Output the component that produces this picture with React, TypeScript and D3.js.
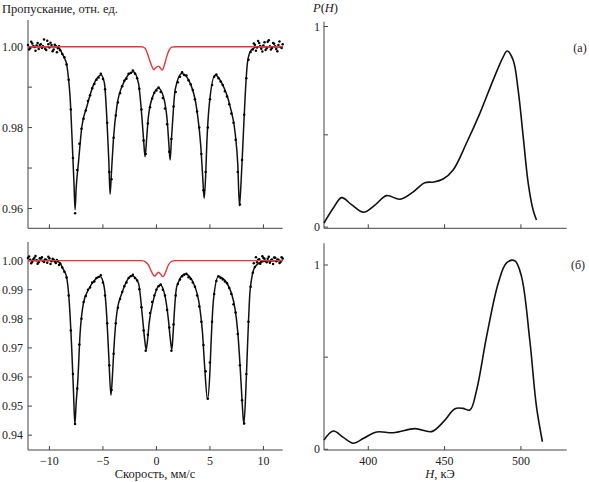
import React from 'react';
import * as d3 from 'd3';

const FONT = '"Liberation Serif", "DejaVu Serif", serif';

// ---------- Mössbauer spectra (velocity mm/s, transmission) ----------
const velTicks = [-10, -5, 0, 5, 10];
const velTickLabels = ['−10', '−5', '0', '5', '10'];

const specATicks = [0.96, 0.97, 0.98, 0.99, 1.0];
const specATickLabels = ['0.96', '', '0.98', '', '1.00'];
const specBTicks = [0.94, 0.95, 0.96, 0.97, 0.98, 0.99, 1.0];
const specBTickLabels = ['0.94', '0.95', '0.96', '0.97', '0.98', '0.99', '1.00'];

// channel velocities of measured points: start and step (mm/s)
const dotVelStart = -12.0;
const dotVelStep = 0.2;

const dotsA = [
  1.0004, 0.9996, 1.0008, 0.9999, 1.0003, 0.9994, 1.0006, 1.0001, 0.9995, 1.0015,
  0.9998, 1.0004, 0.9993, 1.0002, 0.9996, 0.9991, 0.9982, 0.9974, 0.9956, 0.9918,
  0.9845, 0.9725, 0.9588, 0.9695, 0.976, 0.9797, 0.9822, 0.9842, 0.9866, 0.988,
  0.9897, 0.9908, 0.9918, 0.9924, 0.9933, 0.992, 0.9895, 0.9812, 0.969, 0.9672,
  0.9775, 0.983, 0.9862, 0.9885, 0.9902, 0.9916, 0.9921, 0.9933, 0.9935, 0.9941,
  0.9933, 0.9922, 0.9896, 0.9845, 0.9768, 0.9735, 0.981, 0.985, 0.9872, 0.9886,
  0.9892, 0.9899, 0.9888, 0.9873, 0.9847, 0.9808, 0.974, 0.9772, 0.9852, 0.9888,
  0.9912, 0.9926, 0.9937, 0.993, 0.9929, 0.9917, 0.9907, 0.9893, 0.987, 0.984,
  0.98, 0.9735, 0.9645, 0.969, 0.98, 0.987, 0.9905, 0.9926, 0.9931, 0.9922,
  0.9914, 0.9905, 0.989, 0.9877, 0.9858, 0.9835, 0.9812, 0.977, 0.969, 0.961,
  0.972, 0.9832, 0.9922, 0.9968, 0.9987, 0.9993, 1.0005, 0.9998, 1.0009, 0.9995,
  1.0003, 0.9992, 1.0012, 1.0001, 0.9997, 1.0007, 0.9994, 1.0004, 0.9999, 1.0006,
];

const dotsB = [
  1.0009, 1.0003, 0.9996, 1.001, 1.0001, 0.9994, 1.0007, 0.9999, 1.0004, 0.9993,
  1.0008, 0.9998, 1.0003, 0.9992, 0.9998, 0.999, 0.9976, 0.9962, 0.9942, 0.988,
  0.976, 0.961, 0.9438, 0.956, 0.9712, 0.98, 0.9858, 0.9878, 0.99, 0.9908,
  0.9925, 0.9928, 0.994, 0.9944, 0.995, 0.9925, 0.988, 0.9785, 0.964, 0.9555,
  0.968, 0.9785, 0.9838, 0.9868, 0.9892, 0.9912, 0.9925, 0.994, 0.9946, 0.9951,
  0.994, 0.9932, 0.9902, 0.984, 0.976, 0.969, 0.9745, 0.982, 0.9858, 0.988,
  0.99, 0.9912, 0.9918, 0.99, 0.988, 0.983, 0.977, 0.969, 0.978, 0.988,
  0.992, 0.9935, 0.9946, 0.9951, 0.9955, 0.9943, 0.9937, 0.9925, 0.991, 0.988,
  0.9842, 0.979, 0.971, 0.962, 0.9525, 0.965, 0.979, 0.9885, 0.993, 0.9946,
  0.994, 0.9935, 0.9928, 0.9922, 0.9906, 0.9885, 0.985, 0.9822, 0.9748, 0.964,
  0.952, 0.944, 0.961, 0.979, 0.991, 0.9958, 0.9978, 0.9994, 1.0005, 0.9997,
  1.0009, 0.9999, 1.0006, 0.9993, 1.0004, 1.0011, 0.9998, 1.0003, 0.9995, 1.0007,
];

// extra baseline channels (between the channels above), left and right wings
const edgeLeftStart = -11.9;
const edgeRightStart = 9.1;
const edgeLeftA = [0.9993, 1.0012, 1.0002, 0.999, 1.0009, 1.0004, 0.9997, 1.0018, 0.9992, 1.0006, 1.001, 0.9989, 1.0005, 0.9986, 1.0001];
const edgeRightA = [1.0008, 0.999, 1.0014, 1.0002, 0.9988, 1.0011, 0.9996, 1.0016, 0.9993, 1.0009, 1.0001, 0.9989, 1.0013, 0.9997];
const edgeLeftB = [1.0014, 0.9991, 1.0005, 1.0016, 0.9989, 1.0008, 1.0012, 0.9995, 1.0003, 1.0013, 0.9988, 1.0006, 0.9997, 1.0002, 0.9985];
const edgeRightB = [0.9991, 1.0012, 1.0003, 0.9989, 1.0015, 1.0006, 0.9994, 1.0013, 1.0001, 0.9988, 1.001, 1.0004, 0.9992, 1.0012];

const fitVelA = [
  -12, -9.5, -9.07, -8.84, -8.6, -8.4, -8.25, -8.07, -7.85, -7.7, -7.6, -7.5, -7.29, -6.97, -6.5, -5.89,
  -5.17, -4.86, -4.64, -4.45, -4.33, -4.2, -4.02, -3.7, -3.08, -2.15, -1.68, -1.36, -1.2, -1.06,
  -0.92, -0.75, -0.28, 0.19, 0.65, 1.03, 1.16, 1.28, 1.4, 1.5, 1.75, 2.37, 3.15, 3.78, 4.15,
  4.32, 4.46, 4.6, 4.71, 4.95, 5.49, 6.11, 6.89, 7.36, 7.6, 7.76, 7.9, 8.07, 8.29, 8.5, 8.75,
  9.07, 9.5, 11.8,
];
const fitValA = [
  1.0, 1.0, 0.9996, 0.9985, 0.9972, 0.9958, 0.993, 0.9877, 0.9753, 0.966, 0.9597, 0.965, 0.9712, 0.9802, 0.9852, 0.9905,
  0.993, 0.991, 0.9827, 0.972, 0.9635, 0.969, 0.977, 0.9852, 0.991, 0.9938, 0.991, 0.9827, 0.977, 0.9728,
  0.977, 0.9827, 0.9881, 0.9897, 0.9877, 0.981, 0.976, 0.972, 0.977, 0.981, 0.9893, 0.9934, 0.991, 0.9844, 0.9753,
  0.968, 0.9625, 0.968, 0.9761, 0.986, 0.993, 0.991, 0.9852, 0.9786, 0.971, 0.9607, 0.966, 0.9753, 0.9877, 0.9959, 0.9987,
  0.9996, 1.0, 1.0,
];

const fitVelB = [
  -12, -9.5, -9.0, -8.84, -8.6, -8.4, -8.16, -7.91, -7.75, -7.62, -7.5, -7.35, -7.13, -6.82, -6.36, -5.8,
  -5.26, -4.89, -4.64, -4.45, -4.25, -4.1, -3.98, -3.7, -3.23, -2.8, -2.3, -1.68, -1.31, -1.1, -0.96,
  -0.82, -0.68, -0.28, 0.35, 0.81, 1.12, 1.3, 1.44, 1.56, 1.65, 1.9, 2.68, 3.46, 4.08, 4.3, 4.5,
  4.77, 5.0, 5.08, 5.33, 5.79, 6.58, 7.36, 7.6, 7.82, 8.0, 8.17, 8.35, 8.5, 8.76, 9.22, 10, 11.8,
];
const fitValB = [
  1.0, 1.0, 0.9992, 0.998, 0.9963, 0.9945, 0.9865, 0.9694, 0.955, 0.9437, 0.951, 0.9585, 0.9751, 0.9854, 0.99, 0.9932,
  0.9945, 0.9911, 0.9808, 0.967, 0.9537, 0.961, 0.9694, 0.982, 0.9888, 0.9928, 0.9948, 0.9923, 0.9808, 0.973, 0.9694,
  0.973, 0.9785, 0.9865, 0.9917, 0.9877, 0.9797, 0.973, 0.9694, 0.975, 0.9808, 0.9911, 0.9954, 0.9923, 0.9831, 0.9755, 0.964,
  0.9524, 0.962, 0.9694, 0.9865, 0.9945, 0.9923, 0.9831, 0.9755, 0.9637, 0.952, 0.9438, 0.955, 0.9694, 0.99, 0.9979, 0.9997, 1.0,
];

const redVelA = [-12, -1.4, -1.06, -0.8, -0.59, -0.4, -0.25, -0.1, 0.19, 0.4, 0.55, 0.75, 0.97, 1.2, 1.44, 1.8, 11.8];
const redValA = [1.0, 1.0, 0.9996, 0.998, 0.9963, 0.995, 0.9943, 0.9947, 0.9952, 0.9946, 0.9942, 0.9955, 0.9976, 0.9992, 0.9999, 1.0, 1.0];

const redVelB = [-12, -1.36, -1.0, -0.75, -0.5, -0.28, -0.15, 0.0, 0.19, 0.4, 0.6, 0.8, 1.12, 1.4, 1.7, 11.8];
const redValB = [1.0, 1.0, 0.9995, 0.9985, 0.9965, 0.995, 0.9947, 0.9953, 0.996, 0.9953, 0.9945, 0.9955, 0.9985, 0.9997, 1.0, 1.0];

// ---------- Hyperfine field distributions P(H) ----------
const hTicks = [400, 450, 500];
const hTickLabels = ['400', '450', '500'];

const pHA_H = [371, 377, 382.6, 389, 396.8, 404.4, 412, 420.8, 429.5, 437, 443, 449, 455.6, 464.3, 473.1, 481.8, 488.4, 491, 494.9, 498.2, 501.5, 504.8, 508, 510.2];
const pHA_P = [0.02, 0.094, 0.147, 0.112, 0.074, 0.11, 0.157, 0.139, 0.176, 0.221, 0.225, 0.24, 0.285, 0.418, 0.567, 0.733, 0.849, 0.878, 0.833, 0.683, 0.451, 0.218, 0.085, 0.035];

const pHB_H = [371, 377.1, 383.6, 390.2, 397, 405.5, 416.4, 430.6, 441.5, 449.3, 456.8, 462, 466.6, 471, 477.5, 485.1, 490.6, 496, 500.4, 505.8, 510.2, 514.1];
const pHB_P = [0.05, 0.099, 0.065, 0.033, 0.06, 0.094, 0.09, 0.112, 0.096, 0.15, 0.22, 0.222, 0.213, 0.322, 0.611, 0.9, 1.012, 1.023, 0.937, 0.593, 0.231, 0.041];

const pTicksA = [0, 0.46, 1];
const pTicksB = [0, 0.5, 1];
const pTickLabels = ['0', '', '1'];

const AXIS = '#444';
const TEXT = '#222';
const RED = '#e8343a';

type Box = { x0: number; x1: number; y0: number; y1: number };

function Axes({ box, xs, ys, xTicks, xLabels, yTicks, yLabels, yLabelX }: any) {
  return (
    <g>
      <line x1={box.x0} x2={box.x0} y1={box.y0} y2={box.y1} stroke={AXIS} strokeWidth={1} />
      <line x1={box.x0} x2={box.x1} y1={box.y1} y2={box.y1} stroke={AXIS} strokeWidth={1} />
      {xTicks.map((t: number, i: number) => (
        <g key={'x' + i}>
          <line x1={xs(t)} x2={xs(t)} y1={box.y1} y2={box.y1 - 4} stroke={AXIS} strokeWidth={1} />
          {xLabels && xLabels[i] ? (
            <text x={xs(t)} y={box.y1 + 14.5} textAnchor="middle" fontSize={12} fontFamily={FONT} fill={TEXT}>
              {xLabels[i]}
            </text>
          ) : null}
        </g>
      ))}
      {yTicks.map((t: number, i: number) => (
        <g key={'y' + i}>
          <line x1={box.x0} x2={box.x0 + 4} y1={ys(t)} y2={ys(t)} stroke={AXIS} strokeWidth={1} />
          {yLabels[i] ? (
            <text x={yLabelX} y={ys(t)} dy="0.35em" textAnchor="end" fontSize={12} fontFamily={FONT} fill={TEXT}>
              {yLabels[i]}
            </text>
          ) : null}
        </g>
      ))}
    </g>
  );
}

function Spectrum({ box, yDomain, dots, edgeL, edgeR, fitV, fitT, redV, redT, yTicks, yLabels, xLabels }: any) {
  const xs = d3.scaleLinear().domain([-12, 11.8]).range([box.x0, box.x1]);
  const ys = d3.scaleLinear().domain(yDomain).range([box.y1, box.y0]);
  const line = d3
    .line<number>()
    .x((_, i) => xs(fitV[i]))
    .y((d) => ys(d))
    .curve(d3.curveMonotoneX);
  const redLine = d3
    .line<number>()
    .x((_, i) => xs(redV[i]))
    .y((d) => ys(d))
    .curve(d3.curveMonotoneX);
  const pts: [number, number][] = [
    ...dots.map((d: number, i: number) => [dotVelStart + i * dotVelStep, d]),
    ...edgeL.map((d: number, i: number) => [edgeLeftStart + i * dotVelStep, d]),
    ...edgeR.map((d: number, i: number) => [edgeRightStart + i * dotVelStep, d]),
  ];
  return (
    <g>
      <Axes box={box} xs={xs} ys={ys} xTicks={velTicks} xLabels={xLabels} yTicks={yTicks} yLabels={yLabels} yLabelX={box.x0 - 5} />
      <path d={line(fitT) || ''} fill="none" stroke="#111" strokeWidth={1.5} />
      {pts.map((p, i) => (
        <circle key={i} cx={xs(p[0])} cy={ys(p[1])} r={1.25} fill="#000" />
      ))}
      <path d={redLine(redT) || ''} fill="none" stroke={RED} strokeWidth={1.4} />
    </g>
  );
}

function Distribution({ box, yDomain, hs, ps, yTicks, xLabels }: any) {
  const xs = d3.scaleLinear().domain([371, 530]).range([box.x0, box.x1]);
  const ys = d3.scaleLinear().domain(yDomain).range([box.y1, box.y0]);
  const line = d3
    .line<number>()
    .x((_, i) => xs(hs[i]))
    .y((d) => ys(d))
    .curve(d3.curveCatmullRom.alpha(0.5));
  return (
    <g>
      <Axes box={box} xs={xs} ys={ys} xTicks={hTicks} xLabels={xLabels} yTicks={yTicks} yLabels={pTickLabels} yLabelX={box.x0 - 4} />
      <path d={line(ps) || ''} fill="none" stroke="#111" strokeWidth={1.6} />
    </g>
  );
}

export default function App() {
  const boxTL: Box = { x0: 28, x1: 282.7, y0: 20, y1: 228.3 };
  const boxBL: Box = { x0: 28, x1: 282.7, y0: 242, y1: 450 };
  const boxTR: Box = { x0: 324, x1: 566.7, y0: 21.7, y1: 228.3 };
  const boxBR: Box = { x0: 324, x1: 566.7, y0: 243.3, y1: 450 };
  return (
    <svg width={589} height={482} style={{ position: 'absolute', left: 0, top: 0, background: '#fff' }}>
      <rect width={589} height={482} fill="#fff" />
      <text x={2} y={12.5} fontSize={12.5} fontFamily={FONT} fill={TEXT}>
        Пропускание, отн. ед.
      </text>
      <Spectrum box={boxTL} yDomain={[0.9551, 1.0066]} dots={dotsA} edgeL={edgeLeftA} edgeR={edgeRightA} fitV={fitVelA} fitT={fitValA}
        redV={redVelA} redT={redValA} yTicks={specATicks} yLabels={specATickLabels} xLabels={null} />
      <Spectrum box={boxBL} yDomain={[0.9349, 1.0064]} dots={dotsB} edgeL={edgeLeftB} edgeR={edgeRightB} fitV={fitVelB} fitT={fitValB}
        redV={redVelB} redT={redValB} yTicks={specBTicks} yLabels={specBTickLabels} xLabels={velTickLabels} />
      <text x={155} y={478} textAnchor="middle" fontSize={12.5} fontFamily={FONT} fill={TEXT}>
        Скорость, мм/с
      </text>

      <text x={313} y={12} fontSize={12.5} fontFamily={FONT} fill={TEXT}>
        <tspan fontStyle="italic">P</tspan>(<tspan fontStyle="italic">H</tspan>)
      </text>
      <Distribution box={boxTR} yDomain={[-0.006, 1.024]} hs={pHA_H} ps={pHA_P} yTicks={pTicksA} xLabels={null} />
      <Distribution box={boxBR} yDomain={[-0.0038, 1.1177]} hs={pHB_H} ps={pHB_P} yTicks={pTicksB} xLabels={hTickLabels} />
      <text x={580} y={51.5} textAnchor="middle" fontSize={12} fontFamily={FONT} fill={TEXT}>(а)</text>
      <text x={578} y={269} textAnchor="middle" fontSize={12} fontFamily={FONT} fill={TEXT}>(б)</text>
      <text x={440} y={478} textAnchor="middle" fontSize={12.5} fontFamily={FONT} fill={TEXT}>
        <tspan fontStyle="italic">H</tspan>, кЭ
      </text>
    </svg>
  );
}
